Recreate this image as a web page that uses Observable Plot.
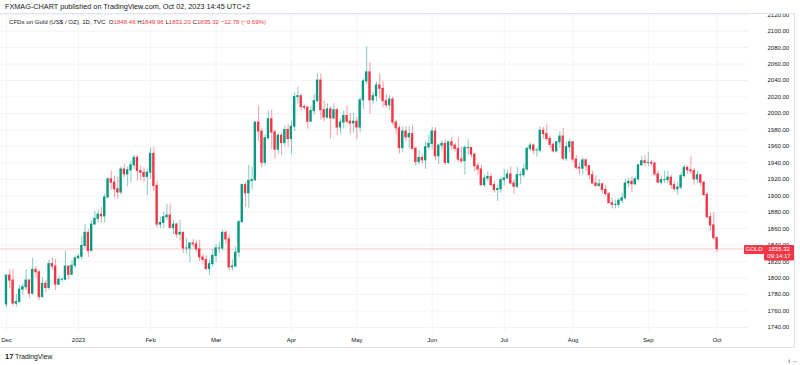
<!DOCTYPE html>
<html><head><meta charset="utf-8">
<script src="https://cdn.jsdelivr.net/npm/d3@7"></script>
<script src="https://cdn.jsdelivr.net/npm/@observablehq/plot@0.6"></script>
<style>html,body{margin:0;padding:0;background:#fff;}svg{display:block}</style>
</head><body><div id="chart"></div>
<script>
// Daily OHLC, TVC:GOLD, Dec 1 2022 – Oct 2 2023 (trading days only)
const open = [
1768,1803,1797,1769,1771,1786,1789,1797,1781,1810,1807,1777,1793,1788,1817,1814,1792,1798,1798,1814,1804,1815,
1824,1826,1839,1855,1833,1865,1872,1877,1875,1898,1920,1916,1908,1904,1932,1926,1931,1937,1946,1930,1928,1923,
1928,1951,1912,1865,1867,1874,1876,1861,1865,1853,1855,1836,1836,1842,1841,1835,1825,1822,1811,1817,
1827,1836,1836,1855,1847,1813,1814,1831,1868,1913,1903,1918,1919,1989,1978,1940,1970,1993,1977,1956,1973,1964,1980,
1969,1984,2020,2021,2008,2007,1990,2003,2015,2040,2004,1995,2005,1994,2004,1983,1989,1997,1990,1988,
1990,1983,2016,2039,2050,2016,2021,2034,2030,2015,2010,2017,1989,1982,1958,1978,1971,1975,1957,1941,1946,1943,1959,
1963,1978,1948,1961,1963,1940,1965,1961,1957,1944,1942,1958,1958,1950,1936,1932,1913,1921,1923,1913,1907,1908,
1919,1921,1926,1915,1911,1925,1925,1932,1957,1961,1955,1955,1979,1975,1969,1962,1954,1965,1972,1945,1959,
1965,1944,1934,1933,1943,1936,1925,1915,1912,1914,1907,1902,1891,1889,1889,1894,1897,1915,1917,1914,1920,1937,1942,
1940,1940,1939,1926,1916,1919,1919,1922,1913,1908,1910,1924,1934,1931,1930,1920,1925,1916,1901,1874,1864,
1848.46];
const high = [
1804,1810,1810,1780,1791,1793,1810,1798,1824,1814,1809,1800,1797,1822,1825,1823,1802,1800,1833,1815,1821,1827,
1829,1850,1865,1859,1870,1881,1883,1886,1902,1922,1930,1924,1923,1935,1938,1935,1942,1949,1949,1936,1934,1932,
1958,1959,1918,1874,1880,1890,1890,1870,1867,1870,1856,1848,1843,1847,1846,1846,1829,1827,1822,1835,
1841,1843,1858,1858,1852,1822,1838,1870,1914,1916,1937,1935,1989,2009,1982,1974,2003,2004,1980,1975,1976,1985,1987,
1991,2025,2032,2024,2010,2009,2009,2023,2048,2048,2015,2012,2008,2012,2006,1993,2003,2009,2000,2000,
1995,2019,2042,2081,2062,2025,2038,2048,2039,2023,2022,2020,1992,1985,1984,1984,1984,1985,1960,1955,1950,1965,1974,
1983,1983,1963,1967,1968,1966,1971,1964,1971,1959,1961,1968,1959,1952,1940,1937,1925,1930,1927,1917,1912,1922,
1932,1931,1935,1919,1935,1929,1938,1959,1964,1963,1958,1984,1983,1987,1972,1964,1966,1978,1982,1965,1969,
1966,1949,1940,1946,1945,1937,1930,1924,1920,1915,1913,1904,1897,1895,1897,1903,1920,1921,1923,1923,1938,1948,1949,
1953,1943,1942,1930,1924,1930,1930,1925,1917,1916,1928,1937,1936,1947,1933,1930,1926,1917,1904,1879,1880,
1849.96];
const low = [
1764,1787,1765,1765,1769,1779,1785,1775,1779,1800,1773,1775,1782,1785,1809,1785,1791,1795,1797,1798,1803,1812,
1823,1822,1836,1825,1832,1865,1867,1867,1867,1896,1907,1897,1896,1901,1922,1911,1916,1932,1918,1918,1916,1900,
1920,1905,1861,1860,1860,1870,1860,1853,1848,1845,1830,1829,1819,1837,1831,1820,1817,1809,1804,1813,
1819,1830,1833,1841,1809,1809,1813,1825,1867,1886,1885,1907,1917,1966,1934,1936,1967,1956,1944,1950,1949,1960,1959,
1950,1978,2011,2003,2004,1981,1990,1998,2013,1992,1990,1993,1969,1992,1973,1975,1981,1987,1974,1976,
1968,1977,2005,2035,1999,2011,2014,2018,2007,2006,2004,1985,1974,1951,1952,1966,1957,1956,1936,1937,1938,1932,1955,
1956,1943,1938,1954,1937,1938,1955,1953,1940,1939,1925,1950,1946,1929,1925,1911,1910,1917,1911,1903,1893,1903,
1912,1920,1913,1902,1909,1914,1922,1929,1954,1950,1947,1952,1969,1966,1957,1952,1952,1958,1942,1942,1952,
1940,1931,1926,1925,1930,1920,1914,1910,1910,1902,1900,1891,1884,1884,1885,1891,1896,1910,1904,1912,1917,1936,1935,
1935,1936,1923,1915,1913,1915,1915,1908,1905,1901,1907,1921,1926,1926,1913,1915,1911,1899,1872,1857,1846,
1831.20];
const close = [
1803,1797,1769,1771,1786,1789,1797,1781,1810,1807,1777,1793,1788,1817,1814,1792,1798,1798,1814,1804,1815,1824,
1826,1839,1855,1833,1865,1872,1877,1875,1898,1920,1916,1908,1904,1932,1926,1931,1937,1946,1930,1928,1923,1928,
1951,1912,1865,1867,1874,1876,1861,1865,1853,1855,1836,1836,1842,1841,1835,1825,1822,1811,1817,1827,
1836,1836,1855,1847,1813,1814,1831,1868,1913,1903,1918,1919,1989,1978,1940,1970,1993,1977,1956,1973,1964,1980,1969,
1984,2020,2021,2008,2007,1990,2003,2015,2040,2004,1995,2005,1994,2004,1983,1989,1997,1990,1988,1990,
1983,2016,2039,2050,2016,2021,2034,2030,2015,2010,2017,1989,1982,1958,1978,1971,1975,1957,1941,1946,1943,1959,1963,
1978,1948,1961,1963,1940,1965,1961,1957,1944,1942,1958,1958,1950,1936,1932,1913,1921,1923,1913,1907,1908,1919,
1921,1926,1915,1911,1925,1925,1932,1957,1961,1955,1955,1979,1975,1969,1962,1954,1965,1972,1945,1959,1965,
1944,1934,1933,1943,1936,1925,1915,1912,1914,1907,1902,1891,1889,1889,1894,1897,1915,1917,1914,1920,1937,1942,1940,
1940,1939,1926,1916,1919,1919,1922,1913,1908,1910,1924,1934,1931,1930,1920,1925,1916,1901,1874,1864,1848.46,
1835.32];

const monthLabels = ["Dec","2023","Feb","Mar","Apr","May","Jun","Jul","Aug","Sep","Oct"];
const yTicks = [1740,1760,1780,1800,1820,1840,1860,1880,1900,1920,1940,1960,1980,2000,2020,2040,2060,2080,2100,2120];

// trading days (weekdays)
const dates = d3.utcDays(new Date(Date.UTC(2022,11,1)), new Date(Date.UTC(2023,9,3)))
  .filter(d => d.getUTCDay() !== 0 && d.getUTCDay() !== 6);

const data = dates.map((d, i) => ({i, date: d, open: open[i], high: high[i], low: low[i], close: close[i]}));
const monthIdx = data.filter((d, i) => i === 0 || d.date.getUTCMonth() !== data[i-1].date.getUTCMonth()).map(d => d.i);
const labelOf = new Map(monthIdx.map((v, k) => [v, monthLabels[k]]));

const GREEN = "#089981", RED = "#f23645";
const col = d => d.close >= d.open ? GREEN : RED;
const last = data[data.length - 1];

const chart = Plot.plot({
  width: 800, height: 365,
  marginLeft: 0, marginRight: 52, marginTop: 13, marginBottom: 33,
  x: {domain: [-1.83, 226.6], axis: null},
  y: {domain: [1733.9, 2121.5], axis: null},
  color: {type: "identity"},
  style: {fontFamily: "'Liberation Sans', Arial, sans-serif", fontSize: "6px", color: "#131722", background: "#fff"},
  marks: [
    Plot.gridY(yTicks, {stroke: "#f0f3fa", strokeOpacity: 1}),
    Plot.gridX(monthIdx, {stroke: "#f0f3fa", strokeOpacity: 1}),
    Plot.ruleY([last.close], {stroke: RED, strokeOpacity: 0.3}),
    Plot.ruleX(data, {x: "i", y1: "low", y2: "high", stroke: col, strokeOpacity: 0.5}),
    Plot.rect(data, {x1: d => d.i - 0.36, x2: d => d.i + 0.36, y1: "open", y2: "close", fill: col, insetTop: -0.5, insetBottom: -0.5}),
    Plot.axisY(yTicks, {anchor: "right", tickSize: 0, tickPadding: 19, tickFormat: d3.format(".2f"), fill: "#131722"}),
    Plot.axisX(monthIdx, {anchor: "bottom", tickSize: 0, tickPadding: 5, tickFormat: d => labelOf.get(d), fill: "#131722"})
  ]
});
document.getElementById("chart").appendChild(chart);

const svg = d3.select(chart);
const font = "'Liberation Sans', Arial, sans-serif";
// hide the part of the topmost price label that sits above the pane
svg.append("rect").attr("x", 748).attr("y", 0).attr("width", 52).attr("height", 13.5).attr("fill", "#fff");
// pane frame
svg.append("line").attr("x1", 0).attr("x2", 795).attr("y1", 13.5).attr("y2", 13.5).attr("stroke", "#e0e3eb");
svg.append("line").attr("x1", 0).attr("x2", 795).attr("y1", 347.5).attr("y2", 347.5).attr("stroke", "#e0e3eb");
svg.append("line").attr("x1", 794.5).attr("x2", 794.5).attr("y1", 13.5).attr("y2", 347.5).attr("stroke", "#e0e3eb");

// header
svg.append("text").attr("x", 5).attr("y", 8.5).attr("text-anchor", "start").attr("font-family", font).attr("font-size", 7)
  .attr("fill", "#131722").attr("textLength", 245).attr("lengthAdjust", "spacingAndGlyphs")
  .text("FXMAG-CHART published on TradingView.com, Oct 02, 2023 14:45 UTC+2");
const h2 = svg.append("text").attr("x", 9).attr("y", 24).attr("text-anchor", "start").attr("font-family", font).attr("font-size", 6.1)
  .attr("xml:space", "preserve");
[["CFDs on Gold (US$ / OZ), 1D, TVC  ", "#131722"], ["O", "#131722"], ["1848.46", RED], [" H", "#131722"], ["1849.96", RED],
 [" L", "#131722"], ["1831.20", RED], [" C", "#131722"], ["1835.32", RED], [" \u221212.78 (\u22120.69%)", RED]]
  .forEach(([t, c]) => h2.append("tspan").attr("fill", c).text(t));

// last price label
const yp = chart.scale("y").apply(last.close);
svg.append("rect").attr("x", 744).attr("y", yp - 3.5).attr("width", 20).attr("height", 9).attr("fill", RED).attr("rx", 1);
svg.append("rect").attr("x", 764).attr("y", yp - 3.5).attr("width", 30).attr("height", 15.5).attr("fill", RED).attr("rx", 1);
svg.append("text").attr("x", 754).attr("y", yp + 1).attr("text-anchor", "middle").attr("dominant-baseline", "middle")
  .attr("font-family", font).attr("font-size", 6).attr("fill", "#fff").text("GOLD");
svg.append("text").attr("x", 779).attr("y", yp + 1).attr("text-anchor", "middle").attr("dominant-baseline", "middle")
  .attr("font-family", font).attr("font-size", 6).attr("fill", "#fff").text(d3.format(".2f")(last.close));
svg.append("text").attr("x", 779).attr("y", yp + 8).attr("text-anchor", "middle").attr("dominant-baseline", "middle")
  .attr("font-family", font).attr("font-size", 6).attr("fill", "#fff").text("09:14:17");

// footer logo
svg.append("text").attr("x", 5).attr("y", 358.5).attr("text-anchor", "start").attr("font-family", font).attr("font-size", 7.5).attr("font-weight", 900)
  .attr("fill", "#131722").text("17");
svg.append("text").attr("x", 15).attr("y", 358.5).attr("text-anchor", "start").attr("font-family", font).attr("font-size", 6.8)
  .attr("fill", "#131722").text("TradingView");
</script></body></html>
